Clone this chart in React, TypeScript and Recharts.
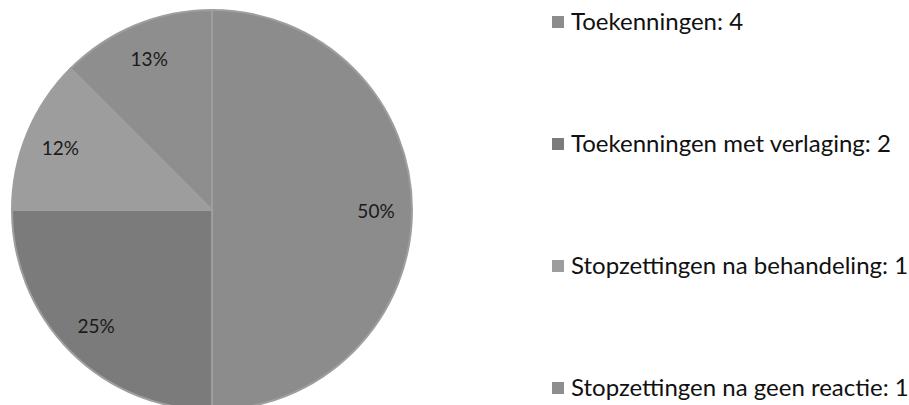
import { PieChart, Pie, Cell } from 'recharts';

const categories = [
  'Toekenningen',
  'Toekenningen met verlaging',
  'Stopzettingen na behandeling',
  'Stopzettingen na geen reactie',
];
const counts = [4, 2, 1, 1];
const pctLabels = ['50%', '25%', '12%', '13%'];
const colors = ['#8c8c8c', '#7b7b7b', '#9d9d9d', '#8e8e8e'];

const data = categories.map((name, i) => ({ name, value: counts[i] }));

const RAD = Math.PI / 180;

function renderLabel(props: any) {
  const { cx, cy, midAngle, outerRadius, index } = props;
  const r = outerRadius * 0.82;
  const x = cx + r * Math.cos(-midAngle * RAD);
  const y = cy + r * Math.sin(-midAngle * RAD);
  return (
    <text
      x={x}
      y={y}
      textAnchor="middle"
      dominantBaseline="central"
      fill="#1a1a1a"
      fontSize={19}
      fontFamily="Lato, sans-serif"
    >
      {pctLabels[index]}
    </text>
  );
}

// legend drawn beside the pie, one row per category
function SideLegend() {
  return (
    <div
      style={{
        position: 'absolute',
        left: 552,
        top: 6,
        fontFamily: 'Lato, sans-serif',
        fontSize: 24,
        color: '#111',
      }}
    >
      {categories.map((name, i) => (
        <div key={name} style={{ height: 122, display: 'flex', alignItems: 'flex-start', whiteSpace: 'nowrap' }}>
          <span
            style={{
              display: 'inline-block',
              width: 12,
              height: 12,
              background: colors[i],
              marginRight: 7,
              marginTop: 10,
              flexShrink: 0,
            }}
          />
          <span>{`${name}: ${counts[i]}`}</span>
        </div>
      ))}
    </div>
  );
}

export default function App() {
  return (
    <div style={{ position: 'absolute', left: 0, top: 0, width: 909, height: 405, background: '#fff', overflow: 'hidden' }}>
      <PieChart width={909} height={405} margin={{ top: 0, right: 0, bottom: 0, left: 0 }}>
        <Pie
          data={data}
          dataKey="value"
          nameKey="name"
          cx={212}
          cy={210}
          outerRadius={200}
          startAngle={90}
          endAngle={-270}
          stroke="#9e9e9e"
          strokeWidth={2}
          label={renderLabel}
          labelLine={false}
          isAnimationActive={false}
        >
          {data.map((d, i) => (
            <Cell key={d.name} fill={colors[i]} />
          ))}
        </Pie>
      </PieChart>
      <SideLegend />
    </div>
  );
}
